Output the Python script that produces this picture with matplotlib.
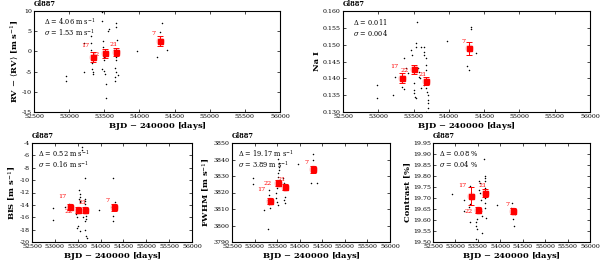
import matplotlib
matplotlib.use("Agg")
import matplotlib.pyplot as plt

plt.rcParams['font.family'] = 'DejaVu Serif'
plt.rcParams['mathtext.fontset'] = 'dejavuserif'

# binned times and labels (number of points per bin)
bin_t = [53340, 53510, 53670, 54290]
bin_n = ['17', '22', '21', '7']

# RV panel
rv_t = [52962, 52962, 53208, 53208, 53310, 53310, 53310, 53330, 53330, 53340, 53340,
        53470, 53470, 53480, 53480, 53490, 53490, 53470, 53490, 53510, 53520, 53520,
        53550, 53560, 53640, 53650, 53660, 53670, 53670, 53670, 53680, 53650, 53660,
        53650, 53650, 53700, 53970, 54250, 54290, 54300, 54320, 54390]
rv_v = [-6.1, -7.3, 2.0, -5.0, 3.8, 2.1, 0.3, -2.9, -4.3, -5.1, -5.6,
        9.8, 7.6, 2.6, 1.2, -1.4, -2.1, -4.3, -4.8, -5.6, -8.1, -11.5,
        5.1, 5.5, 0.3, -0.5, -1.3, -2.1, 7.0, 6.0, 2.8, -4.2, -5.0,
        -6.3, -7.3, -5.8, 0.2, -1.3, 4.7, 2.0, 7.0, 0.3]
rv_bin = [-1.3, -0.5, -0.1, 2.6]
rv_err = [1.2, 1.1, 1.0, 1.2]

# Na I panel
na_t = [52980, 52980, 53210, 53230, 53330, 53360, 53360, 53390, 53420, 53470, 53480,
        53500, 53510, 53510, 53520, 53530, 53540, 53540, 53550, 53560, 53570, 53580,
        53590, 53600, 53600, 53650, 53650, 53670, 53680, 53670, 53690, 53650, 53680,
        53690, 53700, 53710, 53710, 53700, 53670, 53650, 53970, 54250, 54290, 54320,
        54320, 54300, 54380]
na_v = [0.1380, 0.1342, 0.1350, 0.1404, 0.1375, 0.1367, 0.1460, 0.1431, 0.1416, 0.1484, 0.1469,
        0.1386, 0.1365, 0.1356, 0.1345, 0.1342, 0.1505, 0.1493, 0.1568, 0.1431, 0.1419, 0.1404,
        0.1401, 0.1371, 0.1494, 0.1479, 0.1469, 0.1459, 0.1440, 0.1425, 0.1386, 0.1380, 0.1371,
        0.1360, 0.1350, 0.1336, 0.1327, 0.1312, 0.1301, 0.1494, 0.1512, 0.1438, 0.1425, 0.1553,
        0.1546, 0.1494, 0.1476]
na_bin = [0.1402, 0.1427, 0.1392, 0.1489]
na_err = [0.0015, 0.0013, 0.0013, 0.0020]

# BIS panel
bis_t = [52960, 52960, 53220, 53300, 53300, 53300, 53530, 53540, 53530, 53540, 53560,
         53560, 53470, 53480, 53500, 53490, 53560, 53590, 53600, 53610, 53660, 53650,
         53660, 53670, 53660, 53680, 53680, 53670, 53670, 53690, 53700, 53960, 54280,
         54270, 54280, 54250, 54330, 54310]
bis_v = [-14.5, -16.5, -14.3, -13.8, -14.9, -14.6, -11.6, -12.2, -13.0, -13.6, -12.8,
         -13.3, -15.5, -16.0, -17.4, -17.7, -18.2, -4.6, -5.1, -16.0, -9.7, -13.0,
         -13.3, -13.8, -15.2, -15.8, -16.3, -16.6, -18.0, -19.0, -19.3, -14.9, -9.7,
         -15.8, -16.6, -14.3, -14.7, -13.6]
bis_bin = [-14.4, -14.8, -14.8, -14.4]
bis_err = [0.5, 0.5, 0.5, 0.6]

# FWHM panel
fw_t = [52965, 52965, 53210, 53300, 53300, 53320, 53330, 53330, 53340, 53480, 53480,
        53500, 53510, 53500, 53520, 53520, 53540, 53530, 53540, 53550, 53560, 53570,
        53640, 53650, 53660, 53670, 53660, 53670, 53960, 54250, 54300, 54290, 54290, 54380]
fw_v = [3828.6, 3825.2, 3809.4, 3797.7, 3815.5, 3813.0, 3821.5, 3818.5, 3810.4, 3819.9, 3816.5,
        3814.4, 3812.4, 3822.6, 3831.7, 3829.6, 3837.7, 3840.1, 3835.6, 3833.6, 3827.6, 3825.6,
        3828.6, 3825.6, 3822.6, 3817.5, 3815.5, 3813.8, 3837.1, 3825.6, 3843.3, 3839.7, 3833.6, 3825.6]
fw_bin = [3814.8, 3826.0, 3823.5, 3834.0]
fw_err = [2.0, 1.8, 1.8, 2.2]

# Contrast panel
ct_t = [52917, 53180, 53180, 53320, 53320, 53330, 53310, 53460, 53460, 53490, 53480,
        53520, 53540, 53520, 53550, 53560, 53580, 53590, 53450, 53600, 53640, 53660,
        53650, 53670, 53650, 53660, 53650, 53670, 53650, 53690, 53930, 54260, 54270,
        54280, 54300, 54330, 54230]
ct_v = [19.720, 19.693, 19.641, 19.753, 19.671, 19.591, 19.658, 19.591, 19.573, 19.558, 19.606,
        19.776, 19.768, 19.738, 19.723, 19.693, 19.641, 19.616, 19.514, 19.540, 19.877, 19.798,
        19.791, 19.776, 19.746, 19.716, 19.701, 19.679, 19.656, 19.611, 19.667, 19.676, 19.652,
        19.604, 19.571, 19.626, 19.656]
ct_bin = [19.708, 19.646, 19.723, 19.641]
ct_err = [0.040, 0.015, 0.020, 0.012]

panels = [
    # axes rect in pixels: left, top, right, bottom
    dict(rect=(34, 11, 280, 112), t=rv_t, v=rv_v, b=rv_bin, e=rv_err,
         ylim=(-15, 10), yt=[-15, -10, -5, 0, 5, 10], yfmt='{:.0f}',
         ylab=r'RV $-$ $\langle$RV$\rangle$ [m s$^{-1}$]',
         txt=[r'$\Delta$ = 4.06 m s$^{-1}$', r'$\sigma$ = 1.53 m s$^{-1}$']),
    dict(rect=(343, 11, 590, 112), t=na_t, v=na_v, b=na_bin, e=na_err,
         ylim=(0.130, 0.160), yt=[0.130, 0.135, 0.140, 0.145, 0.150, 0.155, 0.160], yfmt='{:.3f}',
         ylab='Na I',
         txt=[r'$\Delta$ = 0.011', r'$\sigma$ = 0.004']),
    dict(rect=(32, 143, 192, 242), t=bis_t, v=bis_v, b=bis_bin, e=bis_err,
         ylim=(-20, -4), yt=[-20, -18, -16, -14, -12, -10, -8, -6, -4], yfmt='{:.0f}',
         ylab=r'BIS [m s$^{-1}$]',
         txt=[r'$\Delta$ = 0.52 m s$^{-1}$', r'$\sigma$ = 0.16 m s$^{-1}$']),
    dict(rect=(232, 143, 390, 242), t=fw_t, v=fw_v, b=fw_bin, e=fw_err,
         ylim=(3790, 3850), yt=[3790, 3800, 3810, 3820, 3830, 3840, 3850], yfmt='{:.0f}',
         ylab=r'FWHM [m s$^{-1}$]',
         txt=[r'$\Delta$ = 19.17 m s$^{-1}$', r'$\sigma$ = 3.89 m s$^{-1}$']),
    dict(rect=(433, 143, 590, 242), t=ct_t, v=ct_v, b=ct_bin, e=ct_err,
         ylim=(19.50, 19.95), yt=[19.50, 19.55, 19.60, 19.65, 19.70, 19.75, 19.80, 19.85, 19.90, 19.95],
         yfmt='{:.2f}', ylab='Contrast [%]',
         txt=[r'$\Delta$ = 0.08 %', r'$\sigma$ = 0.04 %']),
]

# label offsets (points) for each bin's count label
lab_off = [(-3, 8), (-4, -1), (-2, 5), (-3, 5)]
lab_ha = ['right', 'right', 'center', 'right']

W, H = 600, 267
fig = plt.figure(figsize=(W / 100, H / 100), dpi=100)
xt = list(range(52500, 56001, 500))

for p in panels:
    l, t, r, b = p['rect']
    ax = fig.add_axes([l / W, (H - b) / H, (r - l) / W, (b - t) / H])
    ax.scatter(p['t'], p['v'], s=1.2, c='black', lw=0, zorder=2)
    # light red blob behind binned points
    ax.scatter(bin_t, p['b'], s=36, c='#ff9090', alpha=0.4, lw=0, zorder=3)
    ax.errorbar(bin_t, p['b'], yerr=p['e'], fmt='s', color='red', ms=3.6,
                elinewidth=0.7, capsize=2.2, capthick=0.7, zorder=4)
    for bt, bv, n, off, ha in zip(bin_t, p['b'], bin_n, lab_off, lab_ha):
        ax.annotate(n, (bt, bv), xytext=off, textcoords='offset points',
                    color='red', fontsize=4.6, ha=ha, va='center', zorder=5)
    ax.set_xlim(52500, 56000)
    ax.set_ylim(*p['ylim'])
    ax.set_xticks(xt)
    ax.set_xticklabels([str(x) for x in xt])
    ax.set_yticks(p['yt'])
    ax.set_yticklabels([p['yfmt'].format(y) for y in p['yt']])
    ax.tick_params(direction='in', length=2, width=0.5, labelsize=4.5, pad=1.5,
                   top=True, right=True)
    for s in ax.spines.values():
        s.set_linewidth(0.8)
    ax.set_xlabel('BJD $-$ 240000 [days]', fontsize=6, labelpad=1, fontweight='bold')
    ax.set_ylabel(p['ylab'], fontsize=6, labelpad=1, fontweight='bold')
    ax.text(0.0, 1.03, 'Gl887', transform=ax.transAxes, fontsize=4.8,
            ha='left', va='bottom', fontweight='bold')
    ax.text(0.04, 0.895, p['txt'][0], transform=ax.transAxes, fontsize=4.8, va='center')
    ax.text(0.04, 0.785, p['txt'][1], transform=ax.transAxes, fontsize=4.8, va='center')

fig.savefig('out.png', dpi=100)
